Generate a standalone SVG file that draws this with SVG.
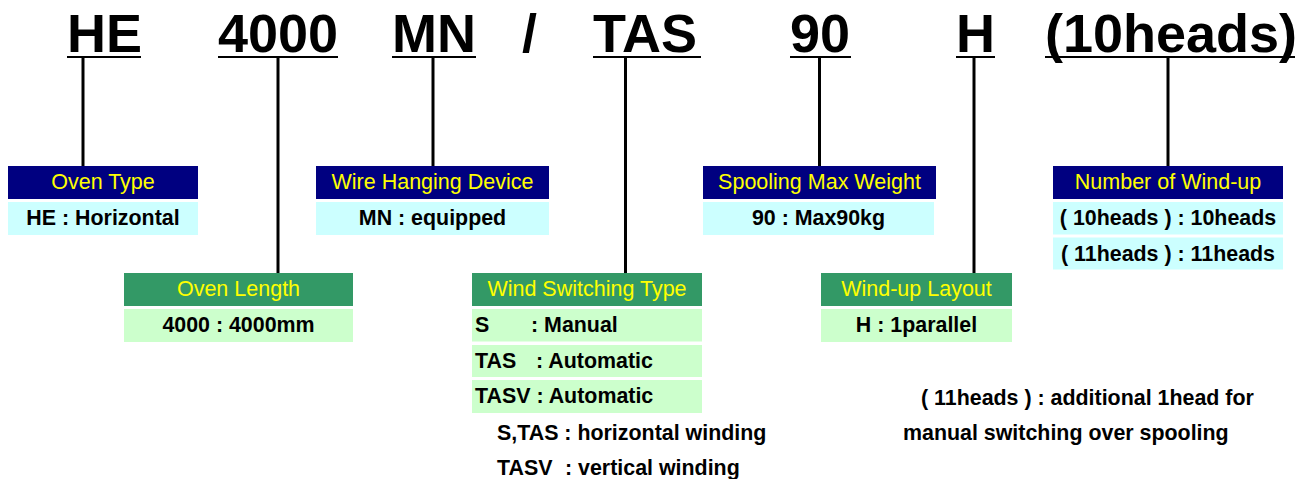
<svg xmlns="http://www.w3.org/2000/svg" width="1296" height="479" viewBox="0 0 1296 479">
<style>
.title{font-family:"Liberation Sans",Arial,sans-serif;font-weight:bold;font-size:54px;fill:#000}
.ul{stroke:#000;stroke-width:2}
.conn{stroke:#000;stroke-width:3;fill:none}
.hn{fill:#000080}
.hg{fill:#339966}
.vc{fill:#CCFFFF}
.vg{fill:#CCFFCC}
.ht{font-family:"Liberation Sans",Arial,sans-serif;font-size:21.5px;fill:#FFFF00;text-anchor:middle}
.vt{font-family:"Liberation Sans",Arial,sans-serif;font-weight:bold;font-size:21.4px;fill:#000;text-anchor:middle}
.lt{font-family:"Liberation Sans",Arial,sans-serif;font-weight:bold;font-size:21.4px;fill:#000}
</style>
<rect width="1296" height="479" fill="#fff"/>
<g id="title">
<text class="title" x="67" y="52">HE</text>
<text class="title" x="218" y="52">4000</text>
<text class="title" x="392" y="52">MN</text>
<text class="title" x="522" y="52">/</text>
<text class="title" x="593" y="52">TAS</text>
<text class="title" x="790" y="52">90</text>
<text class="title" x="956" y="52">H</text>
<text class="title" x="1045" y="52">(10heads)</text>
<line class="ul" x1="67" y1="57" x2="141" y2="57"/>
<line class="ul" x1="218" y1="57" x2="338" y2="57"/>
<line class="ul" x1="392" y1="57" x2="476" y2="57"/>
<line class="ul" x1="593" y1="57" x2="701" y2="57"/>
<line class="ul" x1="790" y1="57" x2="851" y2="57"/>
<line class="ul" x1="956" y1="57" x2="995" y2="57"/>
<line class="ul" x1="1045" y1="57" x2="1295" y2="57"/>
</g>
<g id="connectors">
<line class="conn" x1="83" y1="57" x2="83" y2="166"/>
<line class="conn" x1="278" y1="57" x2="278" y2="273"/>
<line class="conn" x1="433" y1="57" x2="433" y2="166"/>
<line class="conn" x1="625.5" y1="57" x2="625.5" y2="273"/>
<line class="conn" x1="819.5" y1="57" x2="819.5" y2="166"/>
<line class="conn" x1="974" y1="57" x2="974" y2="273"/>
<line class="conn" x1="1168" y1="57" x2="1168" y2="166"/>
</g>
<g id="oven-type">
<rect class="hn" x="8" y="166" width="190" height="33"/>
<text class="ht" x="103" y="189">Oven Type</text>
<rect class="vc" x="8" y="202" width="190" height="33"/>
<text class="vt" x="103" y="225">HE : Horizontal</text>
</g>
<g id="wire-hanging-device">
<rect class="hn" x="316" y="166" width="233" height="33"/>
<text class="ht" x="432.5" y="189">Wire Hanging Device</text>
<rect class="vc" x="316" y="202" width="233" height="33"/>
<text class="vt" x="432.5" y="225">MN : equipped</text>
</g>
<g id="spooling-max-weight">
<rect class="hn" x="703" y="166" width="233" height="33"/>
<text class="ht" x="819.5" y="189">Spooling Max Weight</text>
<rect class="vc" x="703" y="202" width="231" height="33"/>
<text class="vt" x="818.5" y="225">90 : Max90kg</text>
</g>
<g id="number-of-wind-up">
<rect class="hn" x="1053" y="166" width="230" height="33"/>
<text class="ht" x="1168" y="189">Number of Wind-up</text>
<rect class="vc" x="1053" y="202" width="230" height="32.5"/>
<text class="vt" x="1168" y="225">( 10heads ) : 10heads</text>
<rect class="vc" x="1053" y="237.5" width="230" height="32"/>
<text class="vt" x="1168" y="260.5">( 11heads ) : 11heads</text>
</g>
<g id="oven-length">
<rect class="hg" x="124" y="273" width="229" height="33"/>
<text class="ht" x="238.5" y="296">Oven Length</text>
<rect class="vg" x="124" y="309" width="229" height="33"/>
<text class="vt" x="238.5" y="332">4000 : 4000mm</text>
</g>
<g id="wind-switching-type">
<rect class="hg" x="472" y="273" width="230" height="33"/>
<text class="ht" x="587" y="296">Wind Switching Type</text>
<rect class="vg" x="472" y="309" width="230" height="32.5"/>
<text class="lt" y="332"><tspan x="475">S</tspan><tspan x="531">: Manual</tspan></text>
<rect class="vg" x="472" y="345" width="230" height="32"/>
<text class="lt" y="368"><tspan x="475">TAS</tspan><tspan x="536">: Automatic</tspan></text>
<rect class="vg" x="472" y="380" width="230" height="33"/>
<text class="lt" x="475" y="403">TASV : Automatic</text>
</g>
<g id="wind-up-layout">
<rect class="hg" x="821" y="273" width="191" height="33"/>
<text class="ht" x="916.5" y="296">Wind-up Layout</text>
<rect class="vg" x="821" y="309" width="191" height="33"/>
<text class="vt" x="916.5" y="332">H : 1parallel</text>
</g>
<g id="notes">
<text class="lt" x="497" y="440">S,TAS : horizontal winding</text>
<text class="lt" y="475"><tspan x="497">TASV</tspan><tspan x="565">: vertical winding</tspan></text>
<text class="lt" x="921" y="405">( 11heads ) : additional 1head for</text>
<text class="lt" x="903" y="440">manual switching over spooling</text>
</g>
</svg>
